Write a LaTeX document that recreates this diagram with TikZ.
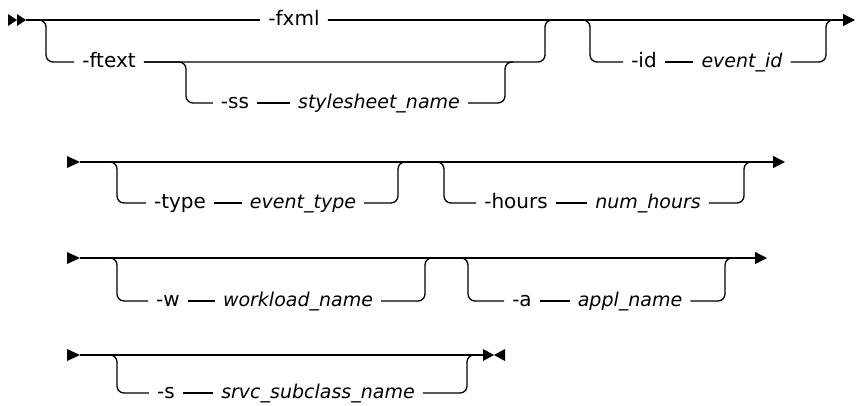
\documentclass[tikz,border=0pt]{standalone}
\usepackage{fontspec}
\setmainfont{DejaVu Sans}
\usetikzlibrary{arrows.meta}
\tikzset{
  rail/.style={line width=1.3pt, rounded corners=7pt},
  endtip/.style={-{Triangle[length=12pt,width=12pt]}},
  kw/.style={inner xsep=8pt, inner ysep=0pt, text height=14pt, text depth=3pt,
    font=\fontsize{20}{24}\selectfont},
  var/.style={kw, font=\fontsize{19}{24}\selectfont\itshape},
}
\begin{document}
\begin{tikzpicture}[x=1pt,y=-1pt]
\useasboundingbox (0,0) rectangle (856,405);
% row 1
\coordinate (r1s) at (26,20);
\coordinate (r1e) at (855,20);
\coordinate (j1) at (46,20);
\coordinate (j2) at (545,20);
\coordinate (j3) at (186,62);
\coordinate (j4) at (505,62);
\coordinate (j5) at (590,20);
\coordinate (j6) at (826,20);
\node[kw] (fxml) at (294,20) {-fxml};
\node[kw] (ftext) at (109,62) {-ftext};
\node[kw] (ss) at (235,103) {-ss};
\node[var] (sheet) at (379,103) {stylesheet\_name};
\node[kw] (id) at (644,62) {-id};
\node[var] (eid) at (742,62) {event\_id};
\fill (8,14) -- (17,20) -- (8,26) -- cycle;
\fill (17,14) -- (26,20) -- (17,26) -- cycle;
\draw[rail] (r1s) -- (fxml);
\draw[rail,endtip] (fxml) -- (r1e);
\draw[rail] (r1s) -- (j1) |- (ftext);
\draw[rail] (ftext) -| (j2) -- ++(8,0);
\draw[rail] (ftext) -- (j3) |- (ss);
\draw[rail] (ss) -- (sheet);
\draw[rail] (sheet) -| (j4) -- ++(8,0);
\draw[rail] (fxml) -- (j5) |- (id);
\draw[rail] (id) -- (eid);
\draw[rail] (eid) -| (j6) -- ++(8,0);
% row 2
\coordinate (r2s) at (80,162);
\coordinate (r2e) at (785,162);
\coordinate (k1) at (117,162);
\coordinate (k2) at (398,162);
\coordinate (k3) at (444,162);
\coordinate (k4) at (744,162);
\node[kw] (type) at (180,203) {-type};
\node[var] (etype) at (303,203) {event\_type};
\node[kw] (hours) at (516,203) {-hours};
\node[var] (nhours) at (648,203) {num\_hours};
\fill (67,156) -- (80,162) -- (67,168) -- cycle;
\draw[rail,endtip] (r2s) -- (r2e);
\draw[rail] (r2s) -- (k1) |- (type);
\draw[rail] (type) -- (etype);
\draw[rail] (etype) -| (k2) -- ++(8,0);
\draw[rail] (r2s) -- (k3) |- (hours);
\draw[rail] (hours) -- (nhours);
\draw[rail] (nhours) -| (k4) -- ++(8,0);
% row 3
\coordinate (r3s) at (80,258);
\coordinate (r3e) at (767,258);
\coordinate (m1) at (117,258);
\coordinate (m2) at (425,258);
\coordinate (m3) at (468,258);
\coordinate (m4) at (725,258);
\node[kw] (w) at (168,301) {-w};
\node[var] (wname) at (298,301) {workload\_name};
\node[kw] (a) at (522,301) {-a};
\node[var] (aname) at (630,301) {appl\_name};
\fill (67,252) -- (80,258) -- (67,264) -- cycle;
\draw[rail,endtip] (r3s) -- (r3e);
\draw[rail] (r3s) -- (m1) |- (w);
\draw[rail] (w) -- (wname);
\draw[rail] (wname) -| (m2) -- ++(8,0);
\draw[rail] (r3s) -- (m3) |- (a);
\draw[rail] (a) -- (aname);
\draw[rail] (aname) -| (m4) -- ++(8,0);
% row 4
\coordinate (r4s) at (80,355);
\coordinate (r4e) at (483,355);
\coordinate (n1) at (117,355);
\coordinate (n2) at (467,355);
\node[kw] (s) at (166,393) {-s};
\node[var] (sname) at (318,393) {srvc\_subclass\_name};
\fill (67,349) -- (80,355) -- (67,361) -- cycle;
\draw[rail] (r4s) -- (r4e);
\draw[rail] (r4s) -- (n1) |- (s);
\draw[rail] (s) -- (sname);
\draw[rail] (sname) -| (n2) -- (r4e);
\fill (483,349) -- (494,355) -- (483,361) -- cycle;
\fill (505,349) -- (494,355) -- (505,361) -- cycle;
\end{tikzpicture}
\end{document}
